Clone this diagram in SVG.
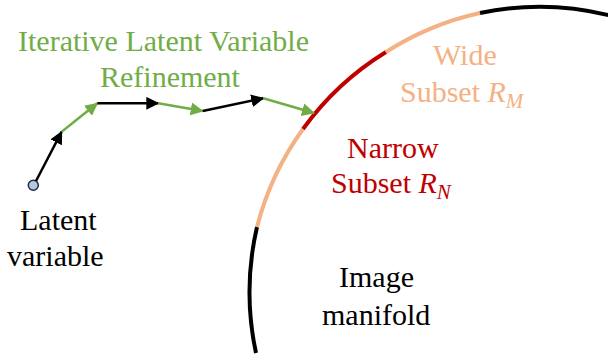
<svg xmlns="http://www.w3.org/2000/svg" width="608" height="356" viewBox="0 0 608 356">
<defs>
<marker id="ak" markerUnits="userSpaceOnUse" markerWidth="14" markerHeight="14" refX="12" refY="6.5" orient="auto"><path d="M0,0 L13,6.5 L0,13 z" fill="#000"/></marker>
<marker id="ag" markerUnits="userSpaceOnUse" markerWidth="14" markerHeight="14" refX="12" refY="6.5" orient="auto"><path d="M0,0 L13,6.5 L0,13 z" fill="#70AD47"/></marker>
</defs>
<g id="manifold" fill="none" stroke-width="4">
<path stroke="#000" d="M256,353 A289.5 289.5 0 0 1 257,227"/>
<path stroke="#F4B183" d="M257,227 A289.5 289.5 0 0 1 303,129"/>
<path stroke="#C00000" d="M303,129 A289.5 289.5 0 0 1 386,52"/>
<path stroke="#F4B183" d="M386,52 A289.5 289.5 0 0 1 480,13"/>
<path stroke="#000" d="M480,13 A289.5 289.5 0 0 1 612,16"/>
</g>
<g id="manifold-label">
<text x="339" y="287" font-size="30" font-family="Liberation Serif" fill="#000">Image</text>
<text x="322" y="325" font-size="30" font-family="Liberation Serif" fill="#000">manifold</text>
</g>
<g id="wide">
<text x="433" y="65" font-size="30" font-family="Liberation Serif" fill="#F4B183">Wide</text>
<text x="400" y="102" font-size="30" font-family="Liberation Serif" fill="#F4B183">Subset <tspan font-style="italic">R</tspan><tspan font-style="italic" font-size="21" dy="6">M</tspan></text>
</g>
<g id="narrow">
<text x="347" y="158" font-size="30" font-family="Liberation Serif" fill="#C00000">Narrow</text>
<text x="331" y="193" font-size="30" font-family="Liberation Serif" fill="#C00000">Subset <tspan font-style="italic">R</tspan><tspan font-style="italic" font-size="21" dy="6">N</tspan></text>
</g>
<g id="title">
<text x="18" y="51" font-size="30" font-family="Liberation Serif" fill="#70AD47">Iterative Latent Variable</text>
<text x="100" y="87" font-size="30" font-family="Liberation Serif" fill="#70AD47">Refinement</text>
</g>
<g id="latent">
<circle cx="33.3" cy="185.3" r="5" fill="#B4C7E7" stroke="#1F2A3A" stroke-width="1.5"/>
<text x="20" y="230" font-size="30" font-family="Liberation Serif" fill="#000">Latent</text>
<text x="7" y="266" font-size="30" font-family="Liberation Serif" fill="#000">variable</text>
</g>
<g id="connectors" fill="none" stroke-width="2.5">
<line stroke="#000" marker-end="url(#ak)" x1="36" y1="181" x2="61.7" y2="131.7"/>
<line stroke="#70AD47" marker-end="url(#ag)" x1="61.7" y1="131.7" x2="97.3" y2="103.3"/>
<line stroke="#000" marker-end="url(#ak)" x1="97.3" y1="103.3" x2="158.3" y2="103.3"/>
<line stroke="#70AD47" marker-end="url(#ag)" x1="158.3" y1="103.3" x2="202.7" y2="111"/>
<line stroke="#000" marker-end="url(#ak)" x1="202.7" y1="111" x2="263.3" y2="98.3"/>
<line stroke="#70AD47" marker-end="url(#ag)" x1="263.3" y1="98.3" x2="314" y2="113"/>
</g>
</svg>
